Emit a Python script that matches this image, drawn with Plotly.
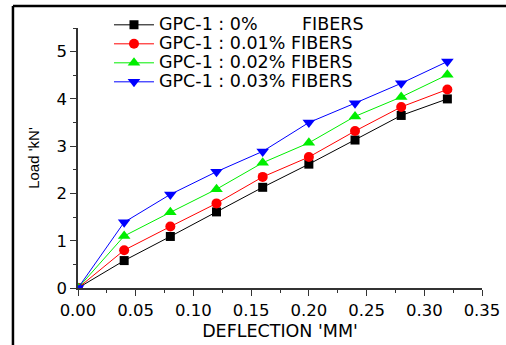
import plotly.graph_objects as go

deflection = [0, 0.04, 0.08, 0.12, 0.16, 0.20, 0.24, 0.28, 0.32]
load_0 = [0, 0.58, 1.09, 1.61, 2.13, 2.62, 3.13, 3.65, 4.0]
load_001 = [0, 0.80, 1.30, 1.79, 2.35, 2.77, 3.32, 3.83, 4.2]
load_002 = [0, 1.10, 1.60, 2.09, 2.65, 3.07, 3.63, 4.04, 4.51]
load_003 = [0, 1.39, 1.98, 2.46, 2.89, 3.50, 3.91, 4.33, 4.79]

names = ["GPC-1 : 0%\u00a0\u00a0\u00a0\u00a0\u00a0\u00a0\u00a0 FIBERS", "GPC-1 : 0.01% FIBERS",
         "GPC-1 : 0.02% FIBERS", "GPC-1 : 0.03% FIBERS"]
series = [load_0, load_001, load_002, load_003]
colors = ["#000000", "#ff0000", "#00ee00", "#0000ff"]
symbols = ["square", "circle", "triangle-up", "triangle-down"]
sizes = [9, 10, 11, 11]

WIDE = "DejaVu Sans, Verdana, sans-serif"

fig = go.Figure()
for n, s, c, m, sz in zip(names, series, colors, symbols, sizes):
    fig.add_trace(go.Scatter(x=deflection, y=s,
                             name="<span style='font-size:17.5px'>" + n + "</span>",
                             mode="lines+markers",
                             line=dict(color=c, width=1),
                             marker=dict(symbol=m, size=sz, color=c)))

axis_common = dict(showline=True, linecolor="#333333", linewidth=1.5, ticks="outside",
                   tickcolor="#333333", ticklen=6, showgrid=False, zeroline=False, mirror=False,
                   automargin=False,
                   tickfont=dict(size=16.5, color="black", family=WIDE))
fig.update_xaxes(range=[0, 0.35], dtick=0.05, tickformat=".2f",
                 minor=dict(dtick=0.025, ticks="outside", ticklen=3, tickcolor="#333333"),
                 title=dict(text="DEFLECTION 'MM'", font=dict(size=17.5, color="black", family=WIDE),
                            standoff=6),
                 **axis_common)
fig.update_yaxes(range=[0, 5.5], dtick=1,
                 minor=dict(dtick=0.5, ticks="outside", ticklen=3, tickcolor="#333333"),
                 title=dict(text="Load 'kN'", font=dict(size=15, color="black",
                                                         family="Liberation Sans, Arial, sans-serif"),
                            standoff=13),
                 **axis_common)

fig.update_layout(
    width=506, height=345,
    margin=dict(l=78, r=24, t=28, b=57, autoexpand=False),
    paper_bgcolor="white", plot_bgcolor="white",
    font=dict(family=WIDE, color="black"),
    legend=dict(x=0.0767, y=1.068, xanchor="left", yanchor="top", bgcolor="rgba(0,0,0,0)",
                font=dict(size=12, family=WIDE), tracegroupgap=0, itemwidth=40),
    showlegend=True,
    shapes=[
        dict(type="line", xref="paper", yref="paper", x0=-0.161, x1=1.1, y0=1.085, y1=1.085,
             line=dict(color="black", width=2.5)),
        dict(type="line", xref="paper", yref="paper", x0=-0.161, x1=-0.161, y0=1.085, y1=-0.25,
             line=dict(color="black", width=2.5)),
    ],
)

fig.write_html("out.html", config={"displayModeBar": False},
               post_script="document.body.style.margin='0';document.body.style.overflow='hidden';")
